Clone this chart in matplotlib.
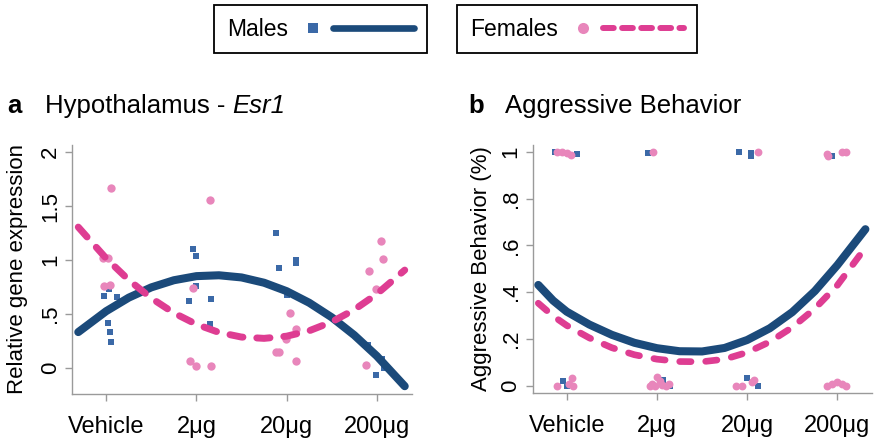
import numpy as np
import matplotlib
matplotlib.use('Agg')
import matplotlib.pyplot as plt
from matplotlib.lines import Line2D
from matplotlib.legend_handler import HandlerBase

plt.rcParams['font.family'] = ['Liberation Sans', 'DejaVu Sans']

dosis = ['Vehicle', '2μg', '20μg', '200μg']

# panel a: puntos (x con jitter alrededor de cada dosis)
a_mx = [-0.03, 0.03, 0.12, 0.02, 0.04, 0.05,
        0.96, 1.0, 1.0, 0.92, 1.16, 1.15,
        1.88, 1.92, 2.1, 2.1, 2.0,
        2.9, 2.99, 3.06, 3.08]
a_my = [0.67, 0.73, 0.66, 0.42, 0.33, 0.24,
        1.10, 1.04, 0.76, 0.62, 0.64, 0.41,
        1.25, 0.93, 1.0, 0.97, 0.68,
        0.21, -0.06, 0.08, 0.0]
a_fx = [0.05, -0.04, 0.02, -0.03, 0.04,
        1.15, 0.96, 0.93, 1.0, 1.16,
        2.04, 1.99, 2.1, 1.92, 1.88, 2.1,
        2.91, 3.05, 3.07, 2.99, 2.88]
a_fy = [1.67, 1.02, 1.02, 0.76, 0.77,
        1.56, 0.74, 0.07, 0.02, 0.02,
        0.51, 0.27, 0.36, 0.15, 0.15, 0.07,
        0.90, 1.18, 1.01, 0.73, 0.03]

# curvas ajustadas
a_curva_x = [-0.31, 0.0, 0.25, 0.5, 0.75, 1.0, 1.25, 1.5, 1.75, 2.0, 2.25, 2.5, 2.75, 3.0, 3.31]
a_m_curva = [0.333, 0.527, 0.652, 0.747, 0.813, 0.851, 0.859, 0.839, 0.79, 0.712, 0.605, 0.47, 0.305, 0.112, -0.168]
a_f_curva = [1.305, 1.015, 0.815, 0.647, 0.51, 0.405, 0.33, 0.287, 0.275, 0.295, 0.345, 0.427, 0.54, 0.685, 0.907]

# panel b: puntos
b_mx = [-0.13, 0.11, 0.905, 1.91, 2.04, 2.04, 2.94,
        -0.04, 0.007, 1.07, 1.15, 2.0, 2.12]
b_my = [1.0, 0.99, 0.995, 1.0, 0.995, 0.982, 0.98,
        0.02, 0.0, 0.024, 0.0, 0.034, 0.0]
b_fx = [-0.11, -0.055, 0.0, 0.045, 0.96, 2.12, 2.88, 2.9, 3.05, 3.10,
        -0.11, 0.02, 0.06, 0.075,
        0.92, 0.95, 0.98, 1.0, 1.03, 1.06, 1.1, 1.13,
        1.88, 1.94, 2.05, 2.08,
        2.88, 2.94, 2.99, 3.05, 3.10]
b_fy = [1.0, 1.0, 0.995, 0.985, 1.0, 1.0, 0.99, 0.98, 1.0, 1.0,
        0.0, 0.01, 0.035, 0.0,
        0.0, 0.01, 0.0, 0.04, 0.02, 0.005, 0.0, 0.01,
        0.0, 0.0, 0.015, 0.025,
        0.0, 0.01, 0.015, 0.01, 0.0]
b_curva_x = [-0.315, -0.15, 0.0, 0.25, 0.5, 0.75, 1.0, 1.25, 1.5, 1.75, 2.0, 2.25, 2.5, 2.75, 3.0, 3.31]
b_m_curva = [0.431, 0.364, 0.317, 0.262, 0.218, 0.184, 0.161, 0.148, 0.147, 0.162, 0.196, 0.246, 0.315, 0.405, 0.516, 0.669]
b_f_curva = [0.353, 0.298, 0.258, 0.205, 0.163, 0.133, 0.114, 0.104, 0.103, 0.114, 0.143, 0.188, 0.25, 0.33, 0.43, 0.59]

azul = '#1b4a7a'
azul_pt = '#3b69a7'
rosa = '#de3d92'
rosa_pt = '#e886bb'


class MarcaYLinea(HandlerBase):
    # marcador a la izquierda, linea a la derecha
    def create_artists(self, legend, orig_handle, xdescent, ydescent, width, height, fontsize, trans):
        mk, ln = orig_handle
        x0 = -xdescent
        y = height / 2 - ydescent
        m = Line2D([x0 + 0.1 * width], [y])
        m.update_from(mk)
        m.set_transform(trans)
        l = Line2D([x0 + 0.28 * width, x0 + width], [y, y])
        l.update_from(ln)
        l.set_transform(trans)
        return [m, l]


def formato(ax, yticks, ylabels, ylim, xlim, ylabel, labelx):
    for s in ['top', 'right']:
        ax.spines[s].set_visible(False)
    for s in ['left', 'bottom']:
        ax.spines[s].set_color('#9a9a9a')
        ax.spines[s].set_linewidth(1)
    ax.set_xlim(xlim)
    ax.set_ylim(ylim)
    ax.set_xticks(range(len(dosis)))
    ax.set_xticklabels(dosis)
    ax.set_yticks(yticks)
    ax.set_yticklabels(ylabels)
    ax.tick_params(axis='both', color='#9a9a9a', length=5, width=1)
    ax.tick_params(axis='x', labelsize=17, pad=11)
    ax.tick_params(axis='y', labelsize=16, pad=3, labelrotation=90)
    for lab in ax.get_yticklabels():
        lab.set_va('center')
    ax.set_ylabel(ylabel, fontsize=16)
    ax.yaxis.set_label_coords(labelx, 0.5)


fig = plt.figure(figsize=(8.84, 4.41), dpi=100)
axA = fig.add_axes([0.0814, 0.1066, 0.3846, 0.5646])
axB = fig.add_axes([0.6026, 0.1085, 0.3835, 0.563])

axA.scatter(a_mx, a_my, marker='s', s=22, color=azul_pt, linewidths=0, zorder=2)
axA.scatter(a_fx, a_fy, marker='o', s=36, color=rosa_pt, linewidths=0, zorder=2)
axA.plot(a_curva_x, a_m_curva, color=azul, lw=5.8, solid_capstyle='round', solid_joinstyle='round', zorder=3)
axA.plot(a_curva_x, a_f_curva, color=rosa, lw=5, ls=(0, (1.9, 2.0)), dash_capstyle='round', zorder=4)
formato(axA, [0, 0.5, 1, 1.5, 2], ['0', '.5', '1', '1.5', '2'], (-0.24, 2.065), (-0.38, 3.39),
        'Relative gene expression', -0.129)

axB.scatter(b_mx, b_my, marker='s', s=18, color=azul_pt, linewidths=0, zorder=2)
axB.scatter(b_fx, b_fy, marker='o', s=32, color=rosa_pt, linewidths=0, zorder=2)
axB.plot(b_curva_x, b_m_curva, color=azul, lw=5.8, solid_capstyle='round', solid_joinstyle='round', zorder=3)
axB.plot(b_curva_x, b_f_curva, color=rosa, lw=4.8, ls=(0, (1.7, 2.2)), dash_capstyle='round', zorder=4)
formato(axB, [0, 0.2, 0.4, 0.6, 0.8, 1], ['0', '.2', '.4', '.6', '.8', '1'], (-0.031, 1.029), (-0.377, 3.38),
        'Aggressive Behavior (%)', -0.12)

# titulos
fig.text(7 / 884, 0.744, 'a', fontsize=18.5, weight='bold', va='baseline')
t1 = fig.text(45 / 884, 0.744, 'Hypothalamus - ', fontsize=18.5, va='baseline')
fig.canvas.draw()
x_fin = t1.get_window_extent().x1 / fig.bbox.width
fig.text(x_fin, 0.744, 'Esr1', fontsize=18.5, style='italic', va='baseline')
fig.text(468 / 884, 0.744, 'b', fontsize=18.5, weight='bold', va='baseline')
fig.text(505 / 884, 0.744, 'Aggressive Behavior', fontsize=18.5, va='baseline')

# leyendas (dos cajas separadas)
mk_m = Line2D([], [], ls='none', marker='s', markersize=6.5, color=azul_pt, markeredgewidth=0)
ln_m = Line2D([], [], color=azul, lw=4.8, solid_capstyle='round')
mk_f = Line2D([], [], ls='none', marker='o', markersize=8, color=rosa_pt, markeredgewidth=0)
ln_f = Line2D([], [], color=rosa, lw=4.3, ls=(0, (1.8, 1.4)), dash_capstyle='round')

for h, lab, pos in [((mk_m, ln_m), 'Males', (0.3626, 0.934)), ((mk_f, ln_f), 'Females', (0.6527, 0.934))]:
    leg = fig.legend(handles=[h], labels=[lab], handler_map={tuple: MarcaYLinea()},
                     loc='center', bbox_to_anchor=pos, markerfirst=False,
                     handlelength=4.9, handletextpad=0.6, borderpad=0.55,
                     fontsize=16.5, fancybox=False, framealpha=1, edgecolor='black')
    leg.get_frame().set_linewidth(1.3)

fig.savefig('out.png', dpi=100)
